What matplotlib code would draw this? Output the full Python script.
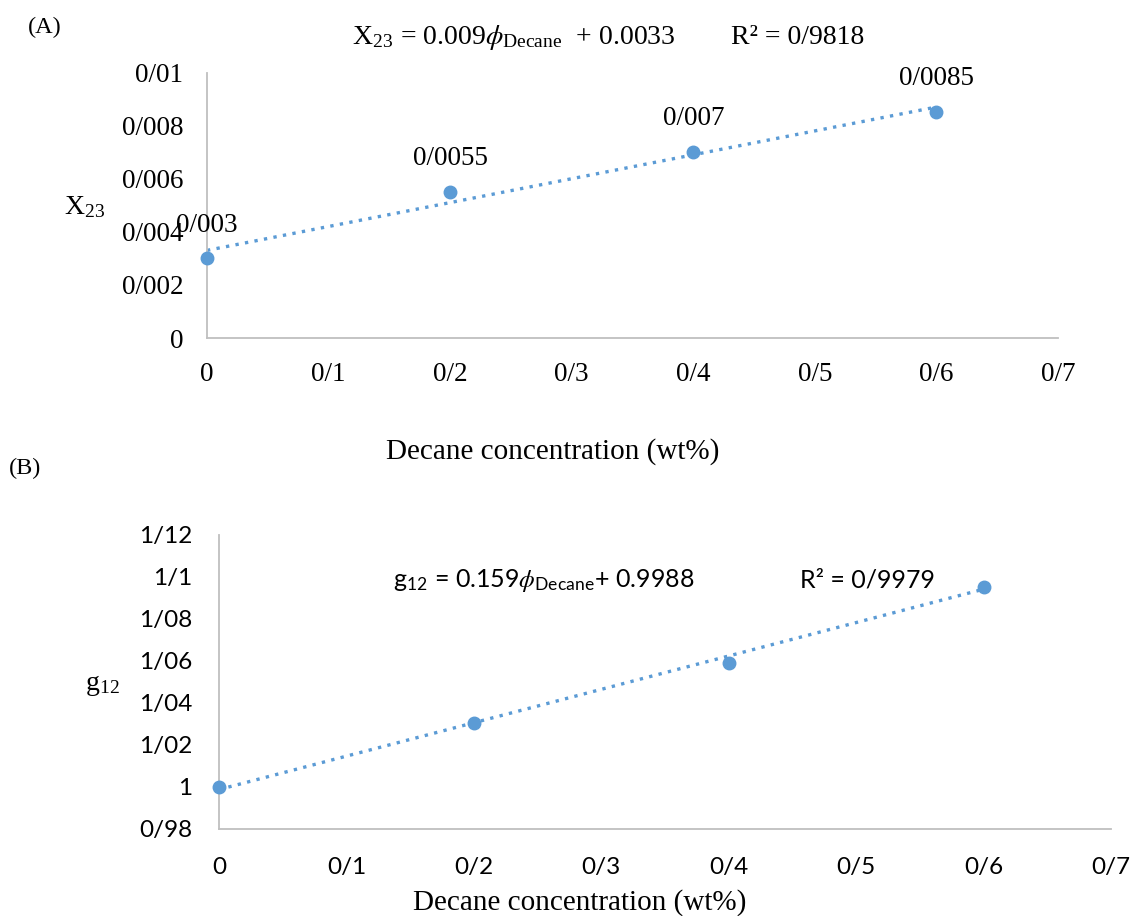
import matplotlib
matplotlib.use("Agg")
import matplotlib.pyplot as plt
from matplotlib.ticker import FuncFormatter, MultipleLocator
import numpy as np

# panel A data
conc = [0.0, 0.2, 0.4, 0.6]
x23 = [0.003, 0.0055, 0.007, 0.0085]
x23_fit = (0.009, 0.0033)
x23_r2 = "0/9818"

# panel B data
g12 = [1.0, 1.0303, 1.059, 1.0954]
g12_fit = (0.159, 0.9988)
g12_r2 = "0/9979"

W, H = 1133, 916
BLUE = "#5B9BD5"
GREY = "#BFBFBF"
SERIF = "Liberation Serif"
SANS = "Lato"

plt.rcParams["mathtext.fontset"] = "stix"


def slash(v, pos=None):
    # decimal point shown as "/" like the original
    return f"{round(v, 6):g}".replace(".", "/")


def px(x, y):
    return x / W, 1 - y / H


def style_axes(ax, font, size, xpad, ypad):
    for s in ["top", "right"]:
        ax.spines[s].set_visible(False)
    for s in ["left", "bottom"]:
        ax.spines[s].set_color(GREY)
        ax.spines[s].set_linewidth(1.3)
    ax.tick_params(length=0)
    ax.tick_params(axis="x", pad=xpad)
    ax.tick_params(axis="y", pad=ypad)
    ax.xaxis.set_major_locator(MultipleLocator(0.1))
    ax.xaxis.set_major_formatter(FuncFormatter(slash))
    ax.yaxis.set_major_formatter(FuncFormatter(slash))
    for lab in ax.get_xticklabels() + ax.get_yticklabels():
        lab.set_fontfamily(font)
        lab.set_fontsize(size)


fig = plt.figure(figsize=(W / 100, H / 100), dpi=100)

# ---- (A) ----
ax1 = fig.add_axes([207 / W, 1 - 338 / H, (1058 - 207) / W, (338 - 72.5) / H])
xs = np.array([conc[0], conc[-1]])
ax1.plot(xs, x23_fit[0] * xs + x23_fit[1], color=BLUE, lw=2.4, ls=(0, (1, 1.9)))
ax1.plot(conc, x23, "o", color=BLUE, ms=9, clip_on=False, zorder=3)
for x, y in zip(conc, x23):
    ax1.annotate(slash(y), (x, y), xytext=(0, 24), textcoords="offset points",
                 ha="center", va="center", fontsize=19.5, family=SERIF)
ax1.set_xlim(0, 0.7)
ax1.set_ylim(0, 0.01)
ax1.yaxis.set_major_locator(MultipleLocator(0.002))
style_axes(ax1, SERIF, 19.5, 17, 17)

fig.text(*px(45, 27), "(A)", fontsize=17.5, family=SERIF, ha="center", va="center")
fig.text(*px(85, 208), r"X$_{\mathregular{23}}$", fontsize=20, family=SERIF,
         ha="center", va="center")
fig.text(*px(553, 452), "Decane concentration (wt%)", fontsize=21, family=SERIF,
         ha="center", va="center")
fig.text(*px(352, 38),
         r"X$_{\mathregular{23}}$ = 0.009$\phi_{\mathregular{Decane}}$  + 0.0033",
         fontsize=20, family=SERIF, ha="left", va="center")
fig.text(*px(731, 38), "R² = " + x23_r2, fontsize=20, family=SERIF,
         ha="left", va="center")

# ---- (B) ----
ax2 = fig.add_axes([219 / W, 1 - 829 / H, (1111 - 219) / W, (829 - 535) / H])
ax2.plot(xs, g12_fit[0] * xs + g12_fit[1], color=BLUE, lw=2.4, ls=(0, (1, 1.9)))
ax2.plot(conc, g12, "o", color=BLUE, ms=9, clip_on=False, zorder=3)
ax2.set_xlim(0, 0.7)
ax2.set_ylim(0.98, 1.12)
ax2.yaxis.set_major_locator(MultipleLocator(0.02))
style_axes(ax2, SANS, 17.5, 20, 19)

fig.text(*px(25, 468), "(B)", fontsize=17.5, family=SERIF, ha="center", va="center")
fig.text(*px(102, 686), r"g$_{\mathregular{12}}$", fontsize=20, family=SERIF,
         ha="center", va="center")
fig.text(*px(580, 903), "Decane concentration (wt%)", fontsize=21, family=SERIF,
         ha="center", va="center")
fig.text(*px(393, 580),
         r"g$_{\mathregular{12}}$ = 0.159$\phi_{\mathregular{Decane}}$+ 0.9988",
         fontsize=18, family=SANS, ha="left", va="center")
fig.text(*px(800, 580), "R² = " + g12_r2, fontsize=18, family=SANS,
         ha="left", va="center")

fig.savefig("out.png", dpi=100)
